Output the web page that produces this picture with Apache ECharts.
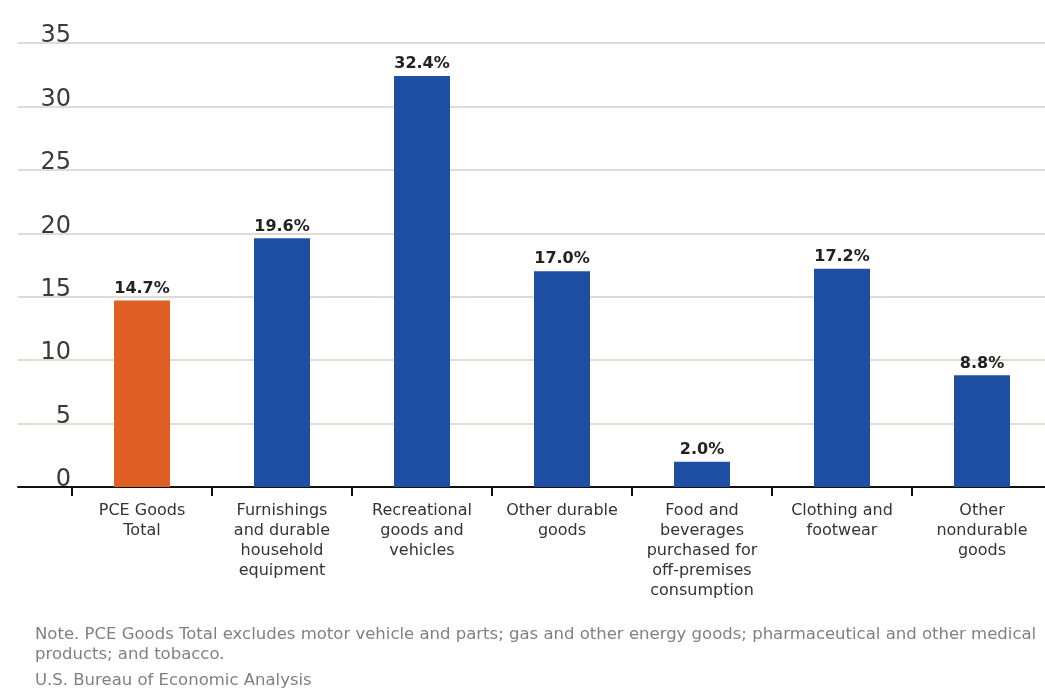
<!DOCTYPE html>
<html>
<head>
<meta charset="utf-8">
<script src="https://cdn.jsdelivr.net/npm/echarts@6/dist/echarts.min.js"></script>
<style>
  html, body { margin: 0; padding: 0; background: #ffffff; }
  #chart { width: 1045px; height: 689px; }
</style>
</head>
<body>
<div id="chart"></div>
<script>
// Categories and growth shares (percent)
const categories = [
  'PCE Goods\nTotal',
  'Furnishings\nand durable\nhousehold\nequipment',
  'Recreational\ngoods and\nvehicles',
  'Other durable\ngoods',
  'Food and\nbeverages\npurchased for\noff-premises\nconsumption',
  'Clothing and\nfootwear',
  'Other\nnondurable\ngoods'
];
const values = [14.7, 19.6, 32.4, 17.0, 2.0, 17.2, 8.8];
const yTicks = [0, 5, 10, 15, 20, 25, 30, 35];
const noteText = 'Note. PCE Goods Total excludes motor vehicle and parts; gas and other energy goods; pharmaceutical and other medical\nproducts; and tobacco.';
const sourceText = 'U.S. Bureau of Economic Analysis';

const ORANGE = '#E05F25';
const BLUE = '#1E4FA3';
const FONT = '"DejaVu Sans", "Noto Sans", sans-serif';

const chart = echarts.init(document.getElementById('chart'), null, { renderer: 'canvas' });

const yMin = yTicks[0];
const yMax = yTicks[yTicks.length - 1];
const yStep = yTicks[1] - yTicks[0];

chart.setOption({
  animation: false,
  backgroundColor: '#ffffff',
  grid: [
    // full-width background grid: gridlines and baseline
    { left: 18, right: 0, top: 43, bottom: 202, outerBoundsMode: 'none' },
    // bar grid, 140px per category; the last slot runs past the right edge
    { left: 72, width: 980, top: 43, bottom: 202, outerBoundsMode: 'none' }
  ],
  xAxis: [
    {
      gridIndex: 0, type: 'value', min: 0, max: 1,
      axisLine: { show: true, onZero: false, lineStyle: { color: '#111', width: 2 } },
      axisTick: { show: false }, axisLabel: { show: false }, splitLine: { show: false }
    },
    {
      gridIndex: 1, type: 'category', data: categories,
      axisLine: { show: false },
      axisTick: { show: true, length: 9, lineStyle: { color: '#111', width: 2 } },
      axisLabel: {
        interval: 0, margin: 14, color: '#333', fontFamily: FONT,
        fontSize: 16, lineHeight: 20
      }
    }
  ],
  yAxis: [
    {
      gridIndex: 0, type: 'value', min: yMin, max: yMax, interval: yStep,
      axisLine: { show: false }, axisTick: { show: false }, axisLabel: { show: false },
      splitLine: { show: true, lineStyle: { color: '#d9cfc5', width: 1.5 } }
    },
    {
      gridIndex: 1, type: 'value', min: yMin, max: yMax, interval: yStep,
      axisLine: { show: false }, axisTick: { show: false },
      splitLine: { show: false },
      axisLabel: {
        margin: 1, color: '#3a3a3a', fontFamily: FONT, fontSize: 24,
        verticalAlign: 'bottom', padding: [0, 0, -5, 0]
      }
    }
  ],
  series: [
    {
      type: 'bar',
      xAxisIndex: 1, yAxisIndex: 1,
      barWidth: 56,
      data: values.map((v, i) => ({
        value: v,
        itemStyle: { color: i === 0 ? ORANGE : BLUE }
      })),
      label: {
        show: true, position: 'top', distance: 4,
        color: '#222', fontFamily: FONT, fontWeight: 'bold', fontSize: 16,
        formatter: p => p.value.toFixed(1) + '%'
      }
    }
  ],
  graphic: [
    {
      type: 'text', left: 35, top: 625,
      style: {
        text: noteText, fill: '#808080', font: '16.5px ' + FONT, lineHeight: 20
      }
    },
    {
      type: 'text', left: 35, top: 672,
      style: { text: sourceText, fill: '#808080', font: '16.5px ' + FONT }
    }
  ]
});
</script>
</body>
</html>
